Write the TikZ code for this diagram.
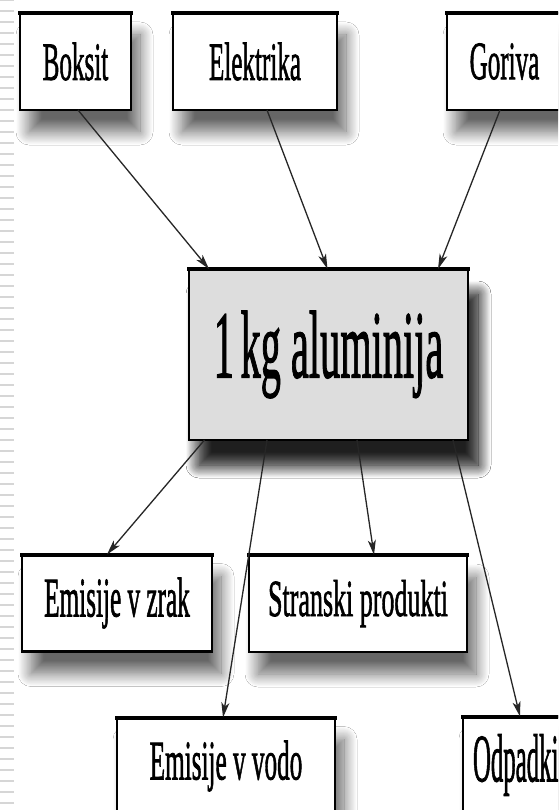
\documentclass[tikz,border=0pt]{standalone}
\usepackage{fontspec}
\usepackage{graphicx}
\setmainfont{Liberation Serif}
\newfontfamily\labelfont[FakeBold=1.6]{Liberation Serif}
\usetikzlibrary{arrows.meta,shadows.blur,calc}
% condensed label text: horizontal squeeze, font size
\newcommand\sqtext[3]{\scalebox{#1}[1]{\labelfont\fontsize{#2}{#2}\selectfont #3}}
\definecolor{boxgray}{HTML}{DDDDDD}
\definecolor{stripegray}{HTML}{D6D6D6}
\tikzset{
  box/.style={draw=black, line width=2.2pt, fill=white, outer sep=0pt,
    inner sep=0pt, minimum height=97pt,
    blur shadow={shadow xshift=9pt, shadow yshift=-22pt,
      shadow blur radius=13pt, shadow blur steps=16, shadow opacity=60}},
  mainbox/.style={box, fill=boxgray, minimum height=171pt,
    blur shadow={shadow xshift=10pt, shadow yshift=-25pt,
      shadow blur radius=13pt, shadow blur steps=16, shadow opacity=65}},
  topedge/.style={line width=4pt, line cap=rect},
  flow/.style={line width=1.3pt, draw=black!85,
    -{Stealth[length=15pt,width=8pt,inset=4pt]}},
  stripe/.style={draw=stripegray, line width=1.8pt}
}
\begin{document}
\begin{tikzpicture}[x=1pt, y=-1pt]
  \useasboundingbox (0,0) rectangle (558,810);
  \clip (0,0) rectangle (558,810);
  \fill[white] (0,0) rectangle (558,810);

  % striped page margin on the left
  \foreach \y in {0,11,...,810}
    \draw[stripe] (0,\y) -- (14,\y);

  % inputs
  \node[box, minimum width=111pt] (boksit) at (75.5,61.5)
    {\sqtext{0.465}{54}{Boksit}};
  \node[box, minimum width=164pt] (elektrika) at (255,61.5)
    {\sqtext{0.465}{54}{Elektrika}};
  \node[box, minimum width=115pt] (goriva) at (504.5,61.5)
    {\sqtext{0.465}{54}{Goriva}};

  % central process
  \node[mainbox, minimum width=279pt] (alu) at (328.5,354.5)
    {\sqtext{0.42}{96}{1\,kg aluminija}};

  % outputs
  \node[box, minimum width=190pt] (zrak) at (117,603)
    {\sqtext{0.45}{56}{Emisije v zrak}};
  \node[box, minimum width=218pt] (stranski) at (358,603.5)
    {\sqtext{0.5}{52}{Stranski produkti}};
  \node[box, minimum width=218pt] (vodo) at (226,766)
    {\sqtext{0.45}{56}{Emisije v vodo}};
  \node[box, minimum width=150pt, text width=130pt, align=left] (odpadki) at (538,765)
    {\sqtext{0.365}{68}{Odpadki}};

  % heavier top edges of the boxes
  \foreach \n in {boksit,elektrika,goriva,alu,zrak,stranski,vodo,odpadki}
    \draw[topedge] (\n.north west) -- (\n.north east);

  % flows into the process
  \draw[flow] ([xshift=2.5pt]boksit.south) -- ([xshift=-119.5pt]alu.north);
  \draw[flow] ([xshift=12pt]elektrika.south) -- ([xshift=-1pt]alu.north);
  \draw[flow] ([xshift=-4.5pt]goriva.south) -- ([xshift=109.5pt]alu.north);

  % flows out of the process
  \draw[flow] ([xshift=-124pt]alu.south) -- ([xshift=-10pt]zrak.north);
  \draw[flow] ([xshift=-61.5pt]alu.south) -- ([xshift=-3pt]vodo.north);
  \draw[flow] ([xshift=28.5pt]alu.south) -- ([xshift=16pt]stranski.north);
  \draw[flow] ([xshift=124.5pt]alu.south) -- ([xshift=-18pt]odpadki.north);
\end{tikzpicture}
\end{document}
